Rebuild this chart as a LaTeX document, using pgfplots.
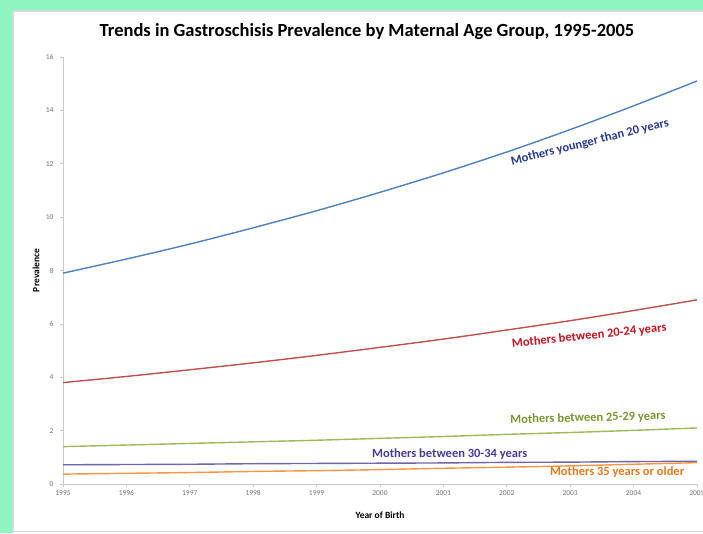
\documentclass[border=0pt]{standalone}
\usepackage{fontspec}
\setmainfont{Carlito}
\usepackage{pgfplots}
\pgfplotsset{compat=1.18}

\definecolor{bordergreen}{RGB}{143,245,192}
\definecolor{framegray}{RGB}{215,218,220}
\definecolor{axgray}{RGB}{200,200,205}
\definecolor{lblue}{RGB}{79,129,189}
\definecolor{lred}{RGB}{192,80,77}
\definecolor{lgreen}{RGB}{155,187,89}
\definecolor{lpurple}{RGB}{112,100,170}
\definecolor{lorange}{RGB}{247,150,70}
\definecolor{tblue}{RGB}{40,60,140}
\definecolor{tred}{RGB}{192,20,30}
\definecolor{tgreen}{RGB}{120,150,50}
\definecolor{tpurple}{RGB}{70,60,150}
\definecolor{torange}{RGB}{228,120,30}

\begin{document}
\begin{tikzpicture}
\useasboundingbox (0pt,0pt) rectangle (703pt,533pt);
\fill[bordergreen] (0pt,0pt) rectangle (703pt,533pt);
\fill[white] (12pt,0pt) rectangle (703pt,522pt);
\draw[framegray, line width=1.5pt] (12.8pt,0pt) -- (12.8pt,522pt) -- (703pt,522pt);
\draw[framegray, line width=1pt] (13pt,2pt) -- (703pt,2pt);
\clip (0pt,0pt) rectangle (703pt,533pt);
\begin{axis}[
    at={(63pt,49pt)}, anchor=south west,
    scale only axis, width=634pt, height=427pt,
    xmin=1995, xmax=2005, ymin=0, ymax=16,
    xtick={1995,...,2005}, ytick={0,2,...,16},
    axis lines*=left,
    axis line style={axgray, line width=0.8pt},
    tick style={axgray, line width=0.6pt},
    tick align=outside, major tick length=3pt,
    /pgf/number format/assume math mode=true,
    x tick label style={/pgf/number format/1000 sep={}},
    y tick label style={xshift=-3pt},
    ticklabel style={font=\fontsize{7.5}{8}\selectfont, text=black!55},
    title={Trends in Gastroschisis Prevalence by Maternal Age Group, 1995-2005},
    title style={font=\fontsize{18.5}{21}\bfseries, at={(axis description cs:0.4795,1.046)}, anchor=center},
    xlabel={Year of Birth},
    xlabel style={font=\fontsize{9.5}{11}\bfseries, at={(axis description cs:0.5,-0.0726)}, anchor=center},
    ylabel={Prevalence},
    ylabel style={font=\fontsize{9.5}{11}\bfseries, at={(axis description cs:-0.0425,0.5)}, anchor=center},
    clip=false,
    every axis plot/.append style={line width=1.4pt, no markers, smooth},
  ]
  \addplot[lblue] coordinates {
    (1995,7.90) (1996,8.43) (1997,8.99) (1998,9.60) (1999,10.24) (2000,10.93)
    (2001,11.66) (2002,12.44) (2003,13.28) (2004,14.17) (2005,15.10)
  };
  \addplot[lred] coordinates {
    (1995,3.80) (1996,4.03) (1997,4.28) (1998,4.54) (1999,4.82) (2000,5.12)
    (2001,5.43) (2002,5.77) (2003,6.12) (2004,6.50) (2005,6.90)
  };
  \addplot[lgreen] coordinates {
    (1995,1.40) (1996,1.46) (1997,1.52) (1998,1.58) (1999,1.64) (2000,1.71)
    (2001,1.78) (2002,1.86) (2003,1.93) (2004,2.01) (2005,2.10)
  };
  \addplot[lpurple] coordinates {
    (1995,0.72) (1996,0.73) (1997,0.74) (1998,0.76) (1999,0.77) (2000,0.78)
    (2001,0.79) (2002,0.81) (2003,0.82) (2004,0.84) (2005,0.85)
  };
  \addplot[lorange] coordinates {
    (1995,0.37) (1996,0.40) (1997,0.43) (1998,0.47) (1999,0.50) (2000,0.54)
    (2001,0.59) (2002,0.63) (2003,0.68) (2004,0.74) (2005,0.80)
  };
  \begin{scope}[every node/.style={font=\fontsize{12.5}{14}\bfseries}]
  \node[text=tblue, rotate=14] at (axis cs:2003.31,12.8) {Mothers younger than 20 years};
  \node[text=tred, rotate=6] at (axis cs:2003.30,5.55) {Mothers between 20-24 years};
  \node[text=tgreen, rotate=1.5] at (axis cs:2003.28,2.47) {Mothers between 25-29 years};
  \node[text=tpurple] at (axis cs:2001.10,1.12) {Mothers between 30-34 years};
  \node[text=torange] at (axis cs:2003.74,0.45) {Mothers 35 years or older};
  \end{scope}
\end{axis}
\end{tikzpicture}
\end{document}
